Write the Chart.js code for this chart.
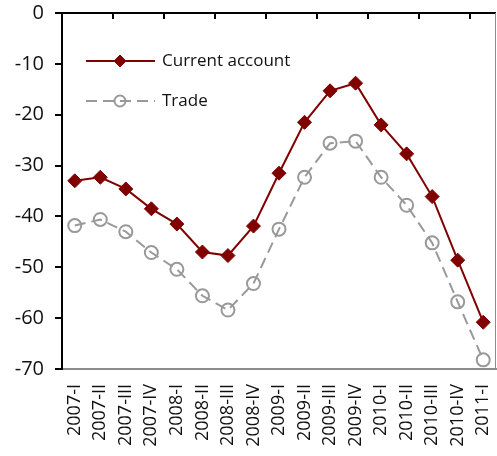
<!DOCTYPE html>
<html>
<head>
<meta charset="utf-8">
<script src="https://cdn.jsdelivr.net/npm/chart.js@4.4.1/dist/chart.umd.min.js"></script>
<style>
  html, body { margin: 0; padding: 0; background: #fff; }
  #wrap { width: 497px; height: 456px; }
</style>
</head>
<body>
<div id="wrap"><canvas id="chart"></canvas></div>
<script>
const quarters = [
  "2007-I", "2007-II", "2007-III", "2007-IV",
  "2008-I", "2008-II", "2008-III", "2008-IV",
  "2009-I", "2009-II", "2009-III", "2009-IV",
  "2010-I", "2010-II", "2010-III", "2010-IV",
  "2011-I",
];
const currentAccount = [
  -33.0, -32.3, -34.6, -38.5, -41.5, -47.0, -47.7, -41.9,
  -31.5, -21.5, -15.3, -13.8, -22.0, -27.7, -36.1, -48.6, -60.8,
];
const trade = [
  -41.8, -40.6, -43.0, -47.1, -50.4, -55.6, -58.4, -53.2,
  -42.5, -32.3, -25.6, -25.2, -32.3, -37.8, -45.2, -56.8, -68.2,
];
const seriesNames = ["Current account", "Trade"];

const FONT = "'Open Sans', sans-serif";
const RED = "#800000";
const GREY = "#999999";

// top border with inward ticks every second category, right border, legend
const framePlugin = {
  id: "frame",
  afterDraw(chart) {
    const { ctx, chartArea: a } = chart;
    const xs = chart.scales.x;
    const step = xs.getPixelForValue(1) - xs.getPixelForValue(0);
    ctx.save();
    ctx.strokeStyle = "#000";
    ctx.lineWidth = 2;
    ctx.beginPath();
    ctx.moveTo(a.left, a.top);
    ctx.lineTo(a.right, a.top);
    for (let k = 2; k < quarters.length; k += 2) {
      const x = Math.round(xs.getPixelForValue(k) - step / 2);
      ctx.moveTo(x, a.top);
      ctx.lineTo(x, a.top + 6);
    }
    ctx.stroke();

    ctx.strokeStyle = "#8c8c8c";
    ctx.lineWidth = 1;
    ctx.beginPath();
    ctx.moveTo(a.right - 0.5, a.top);
    ctx.lineTo(a.right - 0.5, a.bottom);
    ctx.stroke();

    // legend
    const lx0 = a.left + 24, lx1 = a.left + 93, mx = a.left + 58;
    chart.data.datasets.forEach((ds, i) => {
      const y = a.top + 48 + i * 40;
      ctx.strokeStyle = ds.borderColor;
      ctx.lineWidth = ds.borderWidth;
      ctx.setLineDash(ds.borderDash || []);
      ctx.beginPath();
      ctx.moveTo(lx0, y);
      ctx.lineTo(lx1, y);
      ctx.stroke();
      ctx.setLineDash([]);
      ctx.fillStyle = ds.pointBackgroundColor;
      ctx.strokeStyle = ds.pointBorderColor;
      ctx.lineWidth = ds.pointBorderWidth;
      Chart.helpers.drawPoint(ctx, {
        pointStyle: ds.pointStyle,
        radius: ds.pointRadius - 1,
        borderWidth: ds.pointBorderWidth,
        rotation: 0,
      }, mx, y);
      ctx.fillStyle = "#111";
      ctx.font = "17px " + FONT;
      ctx.textBaseline = "middle";
      ctx.textAlign = "left";
      ctx.fillText(ds.label, a.left + 100, y);
    });
    ctx.restore();
  },
};

new Chart(document.getElementById("chart"), {
  type: "line",
  data: {
    labels: quarters,
    datasets: [
      {
        label: seriesNames[0],
        data: currentAccount,
        borderColor: RED,
        borderWidth: 2,
        pointStyle: "rectRot",
        pointRadius: 7,
        pointBackgroundColor: RED,
        pointBorderColor: RED,
        pointBorderWidth: 1,
        tension: 0,
      },
      {
        label: seriesNames[1],
        data: trade,
        borderColor: GREY,
        borderWidth: 2,
        borderDash: [11, 6],
        pointStyle: "circle",
        pointRadius: 6.5,
        pointBackgroundColor: "rgba(0,0,0,0)",
        pointBorderColor: GREY,
        pointBorderWidth: 2,
        tension: 0,
      },
    ],
  },
  options: {
    responsive: true,
    maintainAspectRatio: false,
    animation: false,
    layout: {
      autoPadding: false,
      padding: { top: 13, right: 1, left: 0, bottom: 0 },
    },
    plugins: {
      legend: { display: false },
      tooltip: { enabled: false },
    },
    scales: {
      x: {
        offset: true,
        grid: { display: false, drawTicks: false },
        border: { display: true, color: "#8c8c8c", width: 2 },
        ticks: {
          autoSkip: false,
          minRotation: 90,
          maxRotation: 90,
          padding: 15,
          color: "#111",
          font: { family: FONT, size: 18 },
        },
        afterFit: (s) => {
          s.height = 87;
          s.paddingLeft = 0;
          s.paddingRight = 0;
        },
      },
      y: {
        min: -70,
        max: 0,
        ticks: {
          stepSize: 10,
          padding: 11,
          color: "#111",
          font: { family: FONT, size: 20 },
        },
        grid: {
          drawOnChartArea: false,
          tickLength: 7,
          color: "#000",
          lineWidth: 2,
        },
        border: { display: true, color: "#000", width: 2 },
        afterFit: (s) => {
          s.width = 62;
          s.paddingTop = 0;
          s.paddingBottom = 0;
        },
      },
    },
  },
  plugins: [framePlugin],
});
</script>
</body>
</html>
